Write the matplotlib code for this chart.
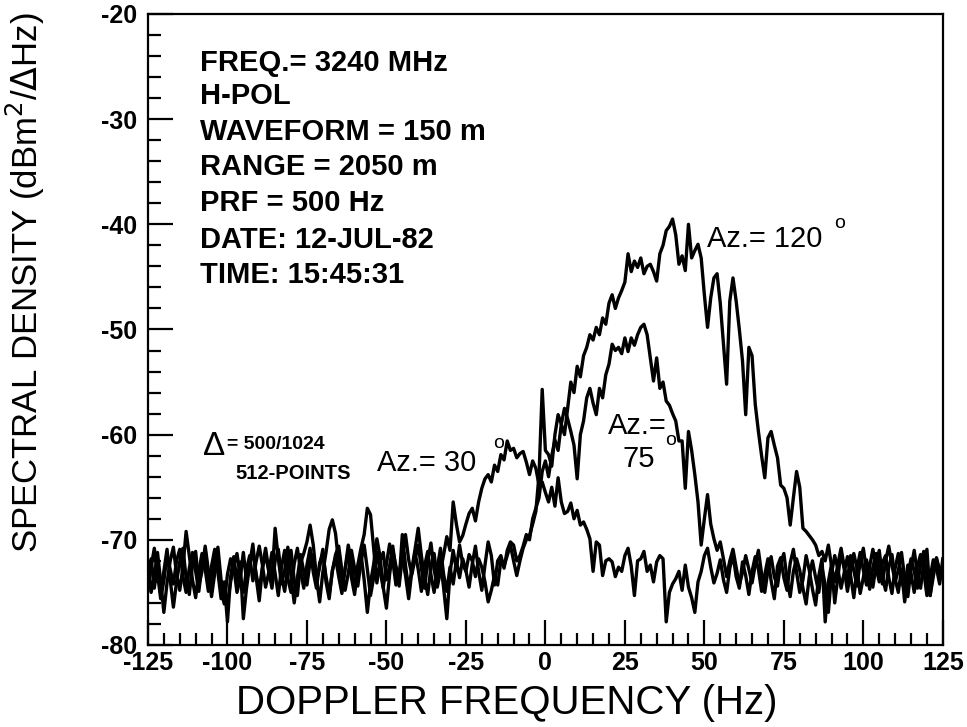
import numpy as np
import matplotlib
matplotlib.use("Agg")
import matplotlib.pyplot as plt
from matplotlib.ticker import MultipleLocator

plt.rcParams["font.family"] = ["Liberation Sans", "DejaVu Sans"]
plt.rcParams["axes.unicode_minus"] = False

# Doppler frequency grid (Hz), one sample per Hz
freq = np.arange(-125, 126)

# Spectral density (dBm^2/dHz) for each azimuth, rows of 10 Hz starting at -125
az30 = [
    -73.5, -71.8, -74.6, -72.2, -75.1, -73.0, -70.9, -73.8, -76.4, -74.0,
    -72.1, -70.8, -73.6, -75.2, -72.4, -71.1, -74.3, -73.0, -70.6, -72.9,
    -75.4, -73.2, -71.5, -74.8, -76.1, -73.3, -71.8, -72.6, -75.0, -73.7,
    -71.2, -73.9, -72.3, -70.4, -73.5, -75.8, -72.7, -71.4, -73.0, -74.6,
    -72.0, -70.9, -73.4, -74.9, -72.5, -71.0, -73.8, -75.3, -72.2, -71.3,
    -70.2, -68.6, -70.5, -73.6, -75.9, -73.1, -71.2, -69.0, -68.1, -69.4,
    -72.3, -74.5, -72.8, -71.0, -73.6, -75.2, -72.4, -70.8, -69.5, -67.0,
    -67.6, -70.8, -74.1, -72.0, -71.2, -73.8, -72.5, -70.6, -72.9, -74.4,
    -71.6, -69.5, -71.9, -73.3, -71.8, -70.5, -72.7, -74.6, -72.0, -70.3,
    -72.8, -74.5, -73.0, -71.4, -69.7, -71.0, -66.4, -68.5, -70.2, -69.6,
    -68.5, -67.5, -67.0, -68.2, -66.4, -65.1, -64.2, -63.8, -64.5, -62.9,
    -63.5, -61.9, -62.4, -60.6, -61.5, -61.3, -62.2, -61.8, -61.6, -62.6,
    -63.8, -62.5, -63.2, -64.8, -64.5, -65.5, -66.4, -65.0, -66.8, -64.1,
    -66.4, -67.5, -67.3, -66.5, -68.0, -67.2, -68.6, -68.3, -69.0, -69.9,
    -73.0, -70.2, -70.5, -73.4, -72.0, -71.8, -72.1, -73.5, -72.6, -73.0,
    -71.5, -70.8, -72.5, -75.3, -72.0, -71.8, -71.1, -73.0, -72.4, -74.0,
    -72.1, -71.5, -71.8, -77.8, -75.0, -74.2, -73.7, -73.0, -74.8, -72.4,
    -74.5, -75.5, -76.9, -74.0, -73.0, -71.5, -70.8, -72.6, -74.1, -73.2,
    -71.9, -73.8, -75.0, -72.7, -71.4, -73.5, -74.6, -72.1, -73.4, -75.2,
    -73.0, -71.6, -72.8, -74.9, -73.3, -71.8, -73.9, -75.6, -72.5, -71.7,
    -73.6, -74.8, -72.2, -70.9, -73.1, -75.0, -73.8, -71.5, -72.9, -74.7,
    -76.2, -73.4, -71.8, -77.8, -74.0, -72.3, -76.0, -73.5, -71.2, -72.8,
    -74.9, -73.0, -71.3, -72.7, -75.1, -73.6, -71.9, -73.2, -74.5, -72.4,
    -71.0, -73.5, -74.8, -72.6, -71.4, -73.7, -75.0, -72.8, -75.9, -73.4,
    -71.8, -73.0, -74.6, -72.3, -71.1, -73.8, -75.3, -72.9, -71.7, -73.1,
    -72.4,
]

az75 = [
    -72.3, -75.0, -73.4, -71.2, -73.9, -76.9, -74.1, -72.0, -70.7, -73.3,
    -74.8, -72.6, -69.2, -71.5, -73.8, -75.5, -73.0, -71.3, -72.8, -74.9,
    -72.5, -70.9, -73.1, -75.6, -74.0, -77.8, -73.5, -71.6, -73.9, -72.1,
    -77.5, -74.6, -72.4, -71.0, -73.2, -74.8, -72.6, -70.8, -72.9, -73.7,
    -68.9, -71.8, -74.2, -72.9, -70.7, -73.5, -76.0, -73.6, -71.4, -73.0,
    -74.3, -72.1, -71.4, -73.9, -72.6, -70.9, -74.0, -75.6, -72.9, -71.7,
    -73.5, -75.1, -72.8, -70.5, -72.2, -74.7, -73.0, -71.3, -73.8, -76.9,
    -74.1, -72.3, -69.9, -71.6, -74.5, -76.5, -73.3, -71.0, -72.5, -73.9,
    -69.5, -72.4, -74.7, -72.8, -70.9, -68.9, -71.5, -73.7, -75.2, -72.6,
    -71.3, -73.8, -72.0, -74.6, -77.5, -73.2, -71.0, -72.8, -70.5, -72.3,
    -73.0, -71.4, -72.0, -73.5, -71.8, -72.6, -74.0, -75.9, -74.8, -73.4,
    -74.3, -72.0, -72.5, -71.5, -70.5, -72.0, -73.4, -72.0, -70.8, -70.0,
    -69.6, -68.5, -67.3, -63.8, -55.7, -61.5, -61.9, -63.0, -60.0, -58.1,
    -59.0, -57.5, -58.5, -59.7, -61.0, -64.2, -60.0, -58.7, -56.5, -55.6,
    -57.0, -58.1, -55.6, -56.5, -54.3, -53.3, -51.4, -52.0, -51.7, -52.3,
    -50.8, -52.1, -50.8, -51.5, -50.5, -49.8, -49.5, -50.5, -52.7, -54.9,
    -52.7, -55.6, -55.0, -56.8, -57.2, -58.0, -58.7, -60.6, -60.6, -65.1,
    -59.7, -61.5, -63.8, -66.4, -70.5, -68.0, -65.7, -68.5, -69.9, -71.0,
    -70.2, -71.8, -73.5, -72.0, -70.9, -72.6, -74.3, -73.1, -71.5, -72.8,
    -74.1, -72.4, -71.0, -73.2, -75.0, -72.9, -71.6, -73.5, -74.4, -72.2,
    -71.3, -73.7, -75.4, -73.0, -71.8, -72.9, -74.6, -76.1, -73.5, -72.0,
    -73.6, -75.0, -72.6, -74.3, -76.9, -73.2, -71.5, -72.8, -74.6, -73.1,
    -71.6, -73.4, -75.5, -72.8, -71.2, -72.9, -74.3, -72.5, -70.9, -72.6,
    -74.0, -72.2, -71.5, -73.6, -75.1, -72.7, -71.3, -73.9, -74.8, -72.4,
    -73.2, -75.0, -72.5, -71.4, -73.0, -75.3, -73.6, -71.9, -72.7, -74.2,
    -71.8,
]

az120 = [
    -74.8, -72.6, -70.8, -73.2, -75.6, -73.9, -71.5, -72.8, -74.2, -72.0,
    -70.9, -73.5, -75.0, -72.7, -71.2, -73.0, -74.9, -72.4, -71.0, -73.6,
    -74.5, -72.2, -70.7, -73.8, -75.2, -76.0, -74.0, -72.5, -71.3, -73.4,
    -75.0, -72.8, -71.5, -73.9, -72.1, -70.6, -72.4, -74.5, -73.1, -71.2,
    -73.2, -75.3, -72.6, -71.0, -73.7, -75.0, -72.3, -70.8, -72.9, -74.6,
    -72.4, -70.8, -73.1, -74.6, -72.2, -71.3, -73.5, -75.2, -73.0, -71.4,
    -70.6, -72.9, -74.8, -73.2, -71.0, -72.7, -74.4, -72.1, -70.5, -72.8,
    -75.3, -73.6, -71.2, -72.9, -74.6, -72.3, -70.4, -72.0, -74.3, -73.1,
    -71.7, -73.4, -75.6, -73.0, -71.2, -72.8, -74.9, -72.5, -71.1, -73.3,
    -75.0, -72.7, -70.8, -73.3, -74.9, -72.6, -74.2, -72.0, -73.6, -71.8,
    -72.9, -74.5, -72.3, -70.6, -73.0, -74.8, -72.4, -70.2, -71.5, -74.3,
    -72.0, -71.5, -72.7, -71.0, -70.2, -70.5, -72.0, -71.5, -70.6, -69.5,
    -70.0, -68.0, -67.0, -66.0, -63.5, -62.5, -64.0, -62.0, -60.5, -61.5,
    -59.0, -60.0, -57.5, -55.0, -56.0, -53.5, -54.5, -52.5, -51.7, -50.5,
    -51.0, -49.8, -50.5, -48.9, -49.5, -47.5, -46.7, -48.0, -47.0, -46.3,
    -45.5, -42.8, -44.5, -43.5, -44.1, -43.2, -44.7, -44.0, -43.8, -44.5,
    -45.4, -42.8, -42.0, -40.6, -40.2, -39.5, -41.0, -43.8, -43.0, -44.4,
    -40.0, -43.2, -42.5, -41.9, -43.2, -46.7, -49.8, -47.0, -45.1, -44.7,
    -47.5, -51.4, -55.2, -47.3, -45.1, -47.3, -50.0, -53.0, -58.1, -51.7,
    -52.5, -57.1, -59.7, -62.0, -64.1, -60.3, -59.7, -61.0, -62.2, -64.8,
    -65.1, -66.0, -68.6, -66.0, -63.5, -65.0, -68.9, -69.2, -69.6, -70.0,
    -70.5, -71.5, -71.1, -72.0, -70.5, -72.5, -74.0, -72.3, -70.8, -72.6,
    -73.8, -71.5, -72.9, -74.4, -72.1, -70.8, -73.0, -74.7, -72.6, -71.3,
    -72.8, -74.2, -72.0, -70.6, -72.4, -74.0, -72.9, -71.2, -73.6, -75.4,
    -72.7, -71.0, -73.3, -74.6, -72.2, -70.9, -75.3, -73.5, -71.8, -72.9,
    -73.1,
]

info_lines = [
    "FREQ.= 3240 MHz",
    "H-POL",
    "WAVEFORM = 150 m",
    "RANGE = 2050 m",
    "PRF = 500 Hz",
    "DATE: 12-JUL-82",
    "TIME: 15:45:31",
]

fig = plt.figure(figsize=(9.67, 7.27), dpi=100)
ax = fig.add_axes([0.153, 0.1128, 0.822, 0.868])

for series in (az30, az75, az120):
    ax.plot(freq, series, color="black", linewidth=2.4,
            solid_joinstyle="round")

ax.set_xlim(-125, 125)
ax.set_ylim(-80, -20)
ax.set_xticks(np.arange(-125, 126, 25))
ax.set_yticks(np.arange(-80, -19, 10))
ax.xaxis.set_minor_locator(MultipleLocator(5))
ax.yaxis.set_minor_locator(MultipleLocator(2))
ax.tick_params(which="both", direction="in", width=1.6, top=False, right=False)
ax.tick_params(which="major", length=18)
ax.tick_params(which="minor", length=9)
ax.tick_params(axis="x", labelsize=18, pad=4)
ax.tick_params(axis="y", labelsize=18, pad=8)
for lbl in ax.get_xticklabels() + ax.get_yticklabels():
    lbl.set_fontweight("bold")
for sp in ax.spines.values():
    sp.set_linewidth(1.6)

ax.set_xlabel("DOPPLER FREQUENCY (Hz)", fontsize=29)
ax.xaxis.set_label_coords(0.452, -0.062)
ax.set_ylabel(r"SPECTRAL DENSITY (dBm$^2$/$\Delta$Hz)", fontsize=25)
ax.yaxis.set_label_coords(-0.127, 0.574)

# run parameters block
info_y = [63, 96, 132, 167, 203, 240, 275]
for text, ypx in zip(info_lines, info_y):
    ax.text(0.0654, (645 - ypx) / 631, text, transform=ax.transAxes,
            fontsize=21, fontweight="bold", va="center", ha="left")

# curve labels
ax.text(50.8, -41.4, "Az.= 120", fontsize=21, va="center", ha="left")
ax.text(90.8, -39.9, "o", fontsize=14, va="center", ha="left")
ax.text(19.7, -59.2, "Az.=", fontsize=21, va="center", ha="left")
ax.text(24.4, -62.3, "75", fontsize=21, va="center", ha="left")
ax.text(37.8, -60.6, "o", fontsize=14, va="center", ha="left")
ax.text(-53.0, -62.65, "Az.= 30", fontsize=21, va="center", ha="left")
ax.text(-16.5, -60.8, "o", fontsize=14, va="center", ha="left")

# resolution note
ax.text(-107.6, -61.1, "\u0394", fontsize=24, va="center", ha="left")
ax.text(-100.2, -60.9, "= 500/1024", fontsize=14, fontweight="bold",
        va="center", ha="left")
ax.text(-97.5, -63.7, "512-POINTS", fontsize=14.5, fontweight="bold",
        va="center", ha="left")

fig.savefig("out.png", dpi=100)
